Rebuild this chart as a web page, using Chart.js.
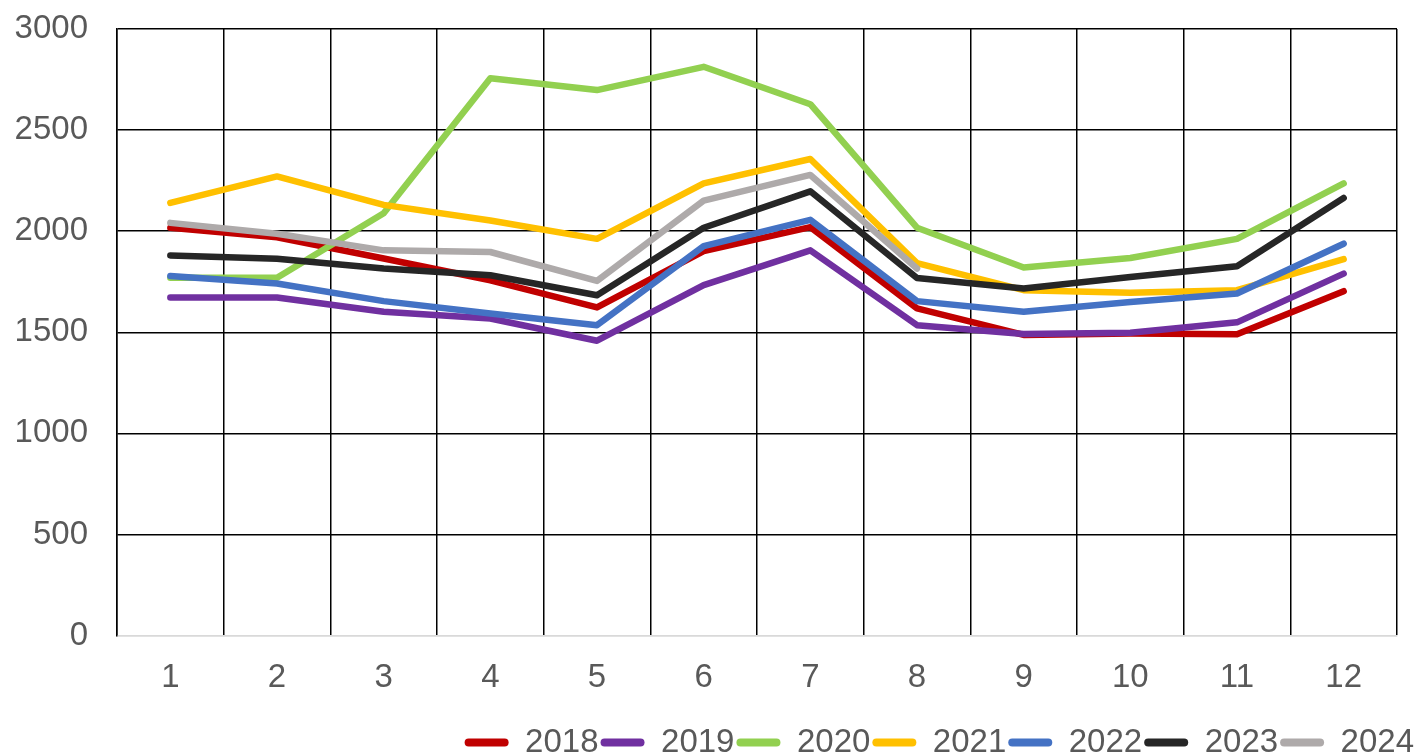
<!DOCTYPE html>
<html>
<head>
<meta charset="utf-8">
<script src="https://cdn.jsdelivr.net/npm/chart.js@4.4.1/dist/chart.umd.min.js"></script>
<style>
  html, body { margin: 0; padding: 0; background: #ffffff; }
  #wrap { width: 1416px; height: 754px; position: relative; }
</style>
</head>
<body>
<div id="wrap"><canvas id="c" width="1416" height="754"></canvas></div>
<script>
const months = ['1','2','3','4','5','6','7','8','9','10','11','12'];
const yTicks = [0, 500, 1000, 1500, 2000, 2500, 3000];
const seriesNames = ['2018','2019','2020','2021','2022','2023','2024'];
const s2018 = [2017, 1970, 1865, 1757, 1623, 1901, 2020, 1618, 1487, 1494, 1490, 1703];
const s2019 = [1672, 1672, 1601, 1568, 1458, 1733, 1905, 1535, 1491, 1498, 1549, 1790];
const s2020 = [1770, 1770, 2089, 2756, 2698, 2813, 2628, 2017, 1820, 1867, 1962, 2236];
const s2021 = [2140, 2271, 2130, 2053, 1962, 2236, 2357, 1842, 1708, 1695, 1708, 1862];
const s2022 = [1778, 1741, 1654, 1593, 1535, 1926, 2056, 1654, 1601, 1650, 1692, 1938];
const s2023 = [1880, 1864, 1815, 1782, 1683, 2017, 2197, 1768, 1716, 1773, 1826, 2164];
const s2024 = [2041, 1987, 1905, 1897, 1754, 2151, 2278, 1815, null, null, null, null];
const colors = ['#C00000', '#7030A0', '#92D050', '#FFC000', '#4472C4', '#262626', '#AEAAAA'];

const allSeries = [s2018, s2019, s2020, s2021, s2022, s2023, s2024];
const datasets = allSeries.map((d, i) => ({
  label: seriesNames[i],
  data: d,
  borderColor: colors[i],
  backgroundColor: colors[i],
  borderWidth: 6.5,
  pointRadius: 0,
  pointHoverRadius: 0,
  tension: 0,
  borderCapStyle: 'round',
  borderJoinStyle: 'round',
  fill: false,
  spanGaps: false,
  order: allSeries.length - i
}));

const FONT = "'Liberation Sans', Arial, sans-serif";

new Chart(document.getElementById('c'), {
  type: 'line',
  data: { labels: months, datasets: datasets },
  options: {
    responsive: false,
    animation: false,
    layout: { padding: { left: 0, right: 0, top: 29, bottom: -15 } },
    plugins: {
      tooltip: { enabled: false },
      title: { display: false },
      legend: {
        display: true,
        position: 'bottom',
        align: 'end',
        labels: {
          sort: (a, b) => a.datasetIndex - b.datasetIndex,
          generateLabels: (chart) => Chart.defaults.plugins.legend.labels.generateLabels(chart)
            .map(l => Object.assign(l, { lineWidth: 0 })),
          boxWidth: 44,
          boxHeight: 8,
          useBorderRadius: true,
          borderRadius: 4,
          padding: 2,
          color: '#595959',
          font: { family: FONT, size: 33 }
        }
      }
    },
    scales: {
      x: {
        offset: true,
        afterFit: (scale) => { scale.height = 88.5; },
        grid: {
          offset: true,
          display: true,
          color: '#000000',
          lineWidth: 1.5,
          drawTicks: false
        },
        border: { display: true, color: '#D9D9D9', width: 1.5 },
        ticks: {
          color: '#595959',
          padding: 22.5,
          font: { family: FONT, size: 33 },
          maxRotation: 0
        }
      },
      y: {
        min: 0,
        max: 3000,
        afterBuildTicks: (scale) => { scale.ticks = yTicks.map(v => ({ value: v })); },
        afterFit: (scale) => { scale.paddingTop = 0; scale.paddingBottom = 0; scale.width = 117; },
        grid: {
          color: (ctx) => (ctx.tick && ctx.tick.value === 0) ? '#D9D9D9' : '#000000',
          lineWidth: 1.5,
          drawTicks: false
        },
        border: { display: true, color: '#000000', width: 1.5 },
        ticks: {
          color: '#595959',
          padding: 29,
          font: { family: FONT, size: 33 },
          callback: (v) => String(v)
        }
      },
      yRight: {
        position: 'right',
        display: true,
        grid: { display: false, drawTicks: false },
        border: { display: false },
        ticks: { display: false },
        afterFit: (scale) => { scale.width = 19; scale.paddingTop = 0; scale.paddingBottom = 0; }
      }
    }
  }
});
</script>
</body>
</html>
